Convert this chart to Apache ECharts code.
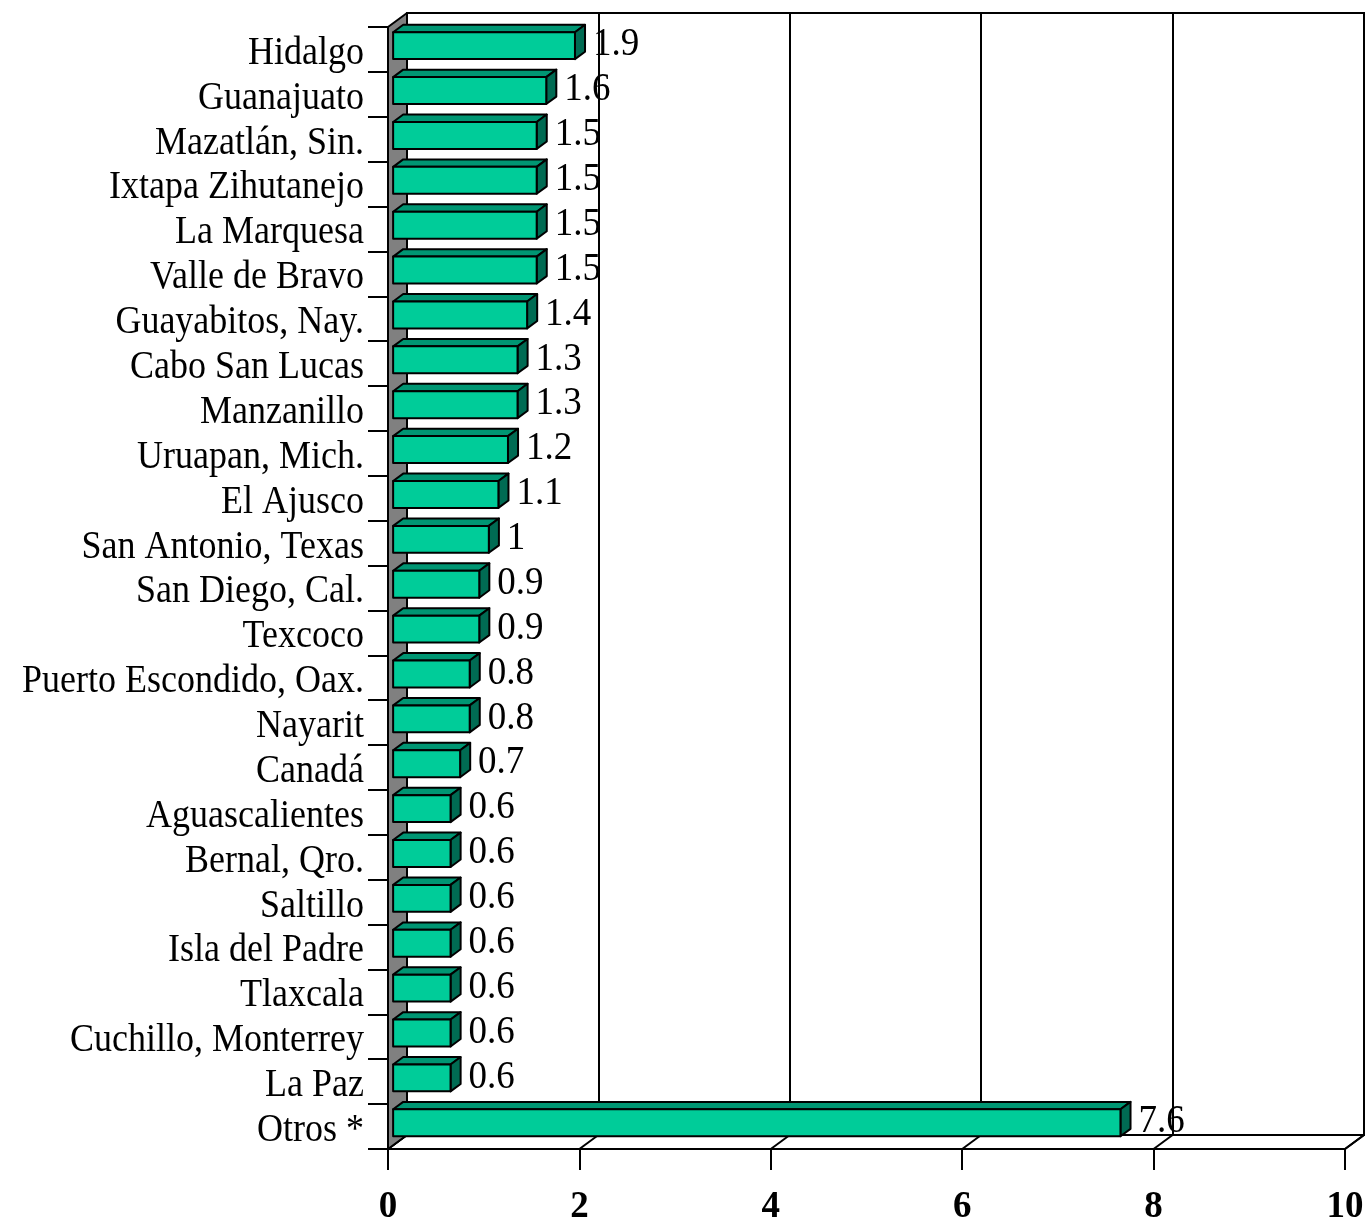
<!DOCTYPE html>
<html><head><meta charset="utf-8">
<script src="https://cdn.jsdelivr.net/npm/echarts@6/dist/echarts.min.js"></script>
<style>html,body{margin:0;padding:0;background:#fff}#c{width:1366px;height:1223px}</style>
</head><body><div id="c"></div>
<script>
const categories = ['Hidalgo','Guanajuato','Mazatlán, Sin.','Ixtapa Zihutanejo','La Marquesa','Valle de Bravo','Guayabitos, Nay.','Cabo San Lucas','Manzanillo','Uruapan, Mich.','El Ajusco','San Antonio, Texas','San Diego, Cal.','Texcoco','Puerto Escondido, Oax.','Nayarit','Canadá','Aguascalientes','Bernal, Qro.','Saltillo','Isla del Padre','Tlaxcala','Cuchillo, Monterrey','La Paz','Otros *'];
const values = [1.9,1.6,1.5,1.5,1.5,1.5,1.4,1.3,1.3,1.2,1.1,1,0.9,0.9,0.8,0.8,0.7,0.6,0.6,0.6,0.6,0.6,0.6,0.6,7.6];
const xTicks = [0,2,4,6,8,10];

const DEPTH = [19, -14];
const FRONT_F = 0.27, BACK_F = 0.8;
const C_FRONT = '#00cc99', C_TOP = '#009673', C_SIDE = '#006b53';
const SERIF = "'Liberation Serif','DejaVu Serif',serif";
const TEXT_STRETCH = 1.1;

const chart = echarts.init(document.getElementById('c'), null, {renderer:'canvas'});

function renderFrame(params, api){
  const cs = params.coordSys;
  const L = cs.x, T = cs.y, R = cs.x + cs.width, Bt = cs.y + cs.height;
  const dx = DEPTH[0], dy = DEPTH[1];
  const st = {stroke:'#000', lineWidth:2, lineJoin:'round'};
  const children = [];
  children.push({type:'polygon', shape:{points:[[L,Bt],[R,Bt],[R+dx,Bt+dy],[L+dx,Bt+dy]]}, style:Object.assign({fill:'#fff'}, st)});
  xTicks.forEach(t => {
    const x = api.coord([t, 0])[0];
    children.push({type:'line', shape:{x1:x, y1:Bt, x2:x+dx, y2:Bt+dy}, style:{stroke:'#000', lineWidth:2}});
  });
  children.push({type:'polygon', shape:{points:[[L,T],[L+dx,T+dy],[L+dx,Bt+dy],[L,Bt]]}, style:Object.assign({fill:'#808080'}, st)});
  return {type:'group', children};
}

function renderBar(params, api){
  const v = api.value(0), i = api.value(1);
  const p0 = api.coord([0, i]), p1 = api.coord([v, i]);
  const band = api.size([0, 1])[1];
  const h = band * 0.6;
  const fx = DEPTH[0]*FRONT_F, fy = DEPTH[1]*FRONT_F;
  const dx = DEPTH[0]*(BACK_F-FRONT_F), dy = DEPTH[1]*(BACK_F-FRONT_F);
  const x0 = p0[0] + fx, x1 = p1[0] + fx, yc = p0[1] + fy;
  const yt = yc - h/2, yb = yc + h/2;
  const st = {stroke:'#000', lineWidth:2, lineJoin:'round'};
  return {type:'group', children:[
    {type:'text', x:p0[0]-24, y:p0[1]+4, scaleY:TEXT_STRETCH,
     style:{text:categories[i], x:0, y:0, align:'right', verticalAlign:'middle', font:'36px ' + SERIF, fill:'#000'}},
    {type:'text', x:x1+18, y:yc-1, scaleY:TEXT_STRETCH,
     style:{text:String(v), x:0, y:0, align:'left', verticalAlign:'middle', font:'37px ' + SERIF, fill:'#000'}},
    {type:'polygon', shape:{points:[[x0,yt],[x1,yt],[x1+dx,yt+dy],[x0+dx,yt+dy]]}, style:Object.assign({fill:C_TOP}, st)},
    {type:'polygon', shape:{points:[[x1,yt],[x1+dx,yt+dy],[x1+dx,yb+dy],[x1,yb]]}, style:Object.assign({fill:C_SIDE}, st)},
    {type:'rect', shape:{x:x0, y:yt, width:x1-x0, height:h}, style:Object.assign({fill:C_FRONT}, st)}
  ]};
}

const option = {
  animation:false,
  backgroundColor:'#fff',
  grid:[
    {left:388, top:27, width:957, height:1122, containLabel:false, outerBoundsMode:'none'},
    {left:388+DEPTH[0], top:27+DEPTH[1], width:957, height:1122, outerBoundsMode:'none', show:true, backgroundColor:'#fff', borderColor:'#000', borderWidth:2, z:0}
  ],
  xAxis:[
    {type:'value', gridIndex:0, min:xTicks[0], max:xTicks[xTicks.length-1], interval:2,
     axisLine:{show:true, lineStyle:{color:'#000', width:2}},
     axisTick:{show:true, length:21, lineStyle:{color:'#000', width:2}},
     splitLine:{show:false},
     axisLabel:{color:'#000', fontFamily:SERIF, fontWeight:'bold', fontSize:37, margin:40}},
    {type:'value', gridIndex:1, min:xTicks[0], max:xTicks[xTicks.length-1], interval:2,
     axisLine:{show:false}, axisTick:{show:false}, axisLabel:{show:false},
     splitLine:{show:true, lineStyle:{color:'#000', width:2}}}
  ],
  yAxis:[
    {type:'category', gridIndex:0, data:categories, inverse:true,
     axisLine:{show:true, lineStyle:{color:'#000', width:2}},
     axisTick:{show:true, length:20, interval:0, lineStyle:{color:'#000', width:2}},
     axisLabel:{show:false}},
    {type:'value', gridIndex:1, show:false}
  ],
  series:[
    {type:'custom', xAxisIndex:0, yAxisIndex:0, renderItem:renderFrame, data:[[0,0]], z:1, silent:true},
    {type:'custom', xAxisIndex:0, yAxisIndex:0, renderItem:renderBar, clip:false,
     data: categories.map((c, i) => [values[i], i]), encode:{x:0, y:1}, z:3}
  ]
};
chart.setOption(option);
</script></body></html>
